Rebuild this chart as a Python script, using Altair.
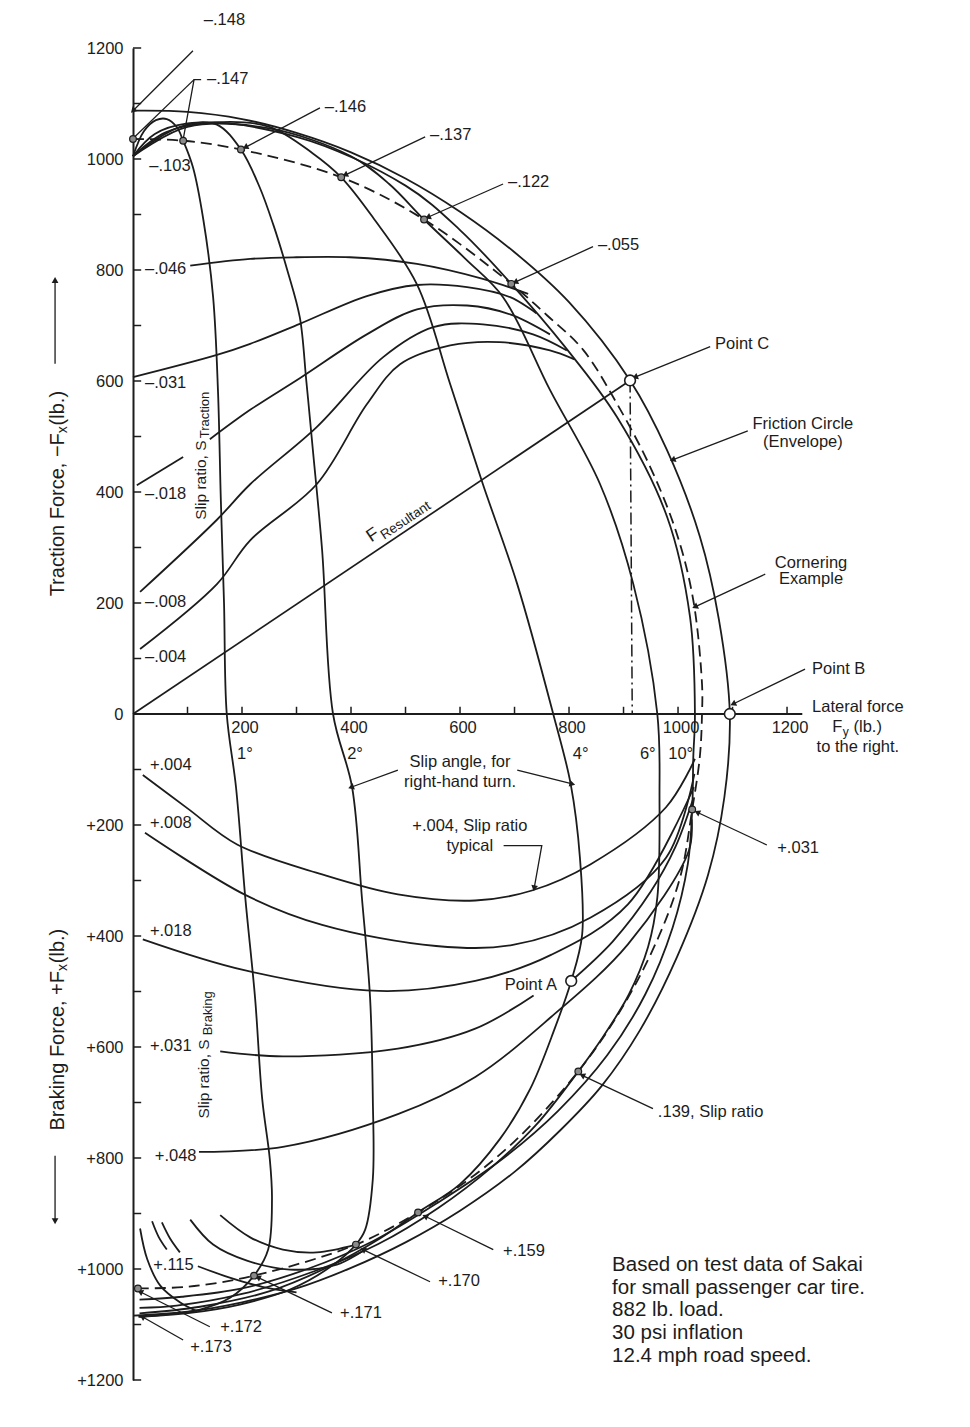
import math
import pandas as pd
import altair as alt

FONT = "Liberation Sans"
INK = "#1c1c1c"

XMAX = 1510
W = 823
H = 1332
SX = W / XMAX
SY = H / 2400.0

# ---------------- axis values ----------------
Y_TICKS = list(range(-1200, 1201, 100))
Y_LABELS = list(range(-1200, 1201, 200))
X_TICKS = list(range(100, 1201, 100))
X_LABELS = [200, 400, 600, 800, 1000, 1200]

# ---------------- curves (Fy lateral, Fx: traction +, braking -) ----------------
ENV_FY = [0, 100, 200, 300, 400, 500, 600, 700, 800, 912, 980, 1040, 1075, 1095,
          1085, 1055, 998, 930, 860, 784, 700, 600, 500, 400, 300, 200, 100, 0]
ENV_FX = [1087, 1085, 1072, 1047, 1012, 965, 905, 832, 742, 601, 475, 320, 170, 0,
          -150, -290, -438, -570, -670, -750, -825, -895, -952, -998, -1035, -1060, -1077, -1084]

CORNER_FY = [0, 92, 198, 382, 534, 694, 760, 826, 888, 949, 998, 1028, 1044, 1044, 1040, 1026,
             1005, 965, 900, 817, 700, 600, 523, 409, 222, 100, 0]
CORNER_FX = [1036, 1033, 1017, 967, 891, 775, 718, 656, 559, 445, 324, 205, 54, 0, -77, -172,
             -290, -400, -525, -644, -770, -850, -898, -956, -1012, -1032, -1035]

VERT_C_FY = [912, 916]
VERT_C_FX = [601, 0]
RESULT_FY = [0, 912]
RESULT_FX = [0, 601]

SA1_FY = [0, 20, 42, 62, 80, 92, 110, 129, 147, 156, 161, 167, 172, 189, 206, 224, 237, 251,
          255, 248, 222, 178, 123, 50, 10]
SA1_FX = [1005, 1050, 1070, 1072, 1058, 1033, 985, 891, 751, 580, 391, 200, 0, -132, -331, -512,
          -693, -802, -874, -965, -1012, -1052, -1073, -1083, -1086]

SA2_FY = [0, 40, 100, 154, 198, 232, 258, 283, 306, 318, 330, 347, 367, 402, 420, 435, 440, 440,
          426, 409, 361, 288, 196, 105, 12]
SA2_FX = [1005, 1045, 1064, 1062, 1017, 950, 880, 800, 715, 600, 476, 295, 0, -132, -331, -512,
          -693, -838, -929, -956, -997, -1037, -1064, -1079, -1086]

SA4_FY = [0, 60, 150, 250, 330, 382, 440, 521, 582, 642, 705, 771, 803, 820, 824, 804, 774, 729,
          673, 600, 523, 453, 361, 251, 123, 12]
SA4_FX = [1005, 1048, 1066, 1058, 1010, 967, 895, 774, 594, 414, 234, 0, -126, -259, -398, -481,
          -566, -675, -766, -847, -898, -945, -995, -1040, -1068, -1080]

SA6_FY = [0, 100, 250, 400, 470, 534, 610, 679, 765, 857, 918, 962, 966, 962, 945, 910, 860, 817,
          740, 660, 560, 450, 330, 200, 80, 12]
SA6_FX = [1005, 1058, 1055, 1005, 955, 891, 820, 751, 584, 414, 234, 0, -150, -331, -420, -505,
          -585, -644, -740, -815, -890, -955, -1005, -1045, -1066, -1070]

SA10_FY = [0, 100, 300, 500, 600, 694, 793, 888, 980, 1022, 1031, 1028, 1026, 1018, 990, 940, 870,
           780, 680, 560, 440, 320, 200, 90, 12]
SA10_FX = [1005, 1062, 1040, 952, 872, 775, 661, 535, 355, 175, 0, -78, -172, -270, -385, -505,
           -615, -715, -800, -880, -950, -1000, -1035, -1050, -1055]

T046_FY = [105, 215, 300, 398, 521, 642, 725]
T046_FX = [808, 820, 823, 823, 811, 784, 757]
T031_FY = [0, 154, 215, 306, 429, 521, 613, 692, 740]
T031_FX = [607, 647, 667, 703, 753, 773, 769, 751, 722]
T018A_FY = [7, 92]
T018A_FX = [412, 463]
T018B_FY = [141, 215, 306, 429, 521, 613, 692, 765]
T018B_FX = [495, 548, 605, 684, 729, 736, 720, 684]
T008_FY = [13, 154, 215, 337, 459, 551, 642, 734, 796]
T008_FX = [220, 350, 414, 517, 643, 697, 702, 684, 655]
T004_FY = [13, 154, 215, 337, 429, 490, 582, 673, 765, 810]
T004_FX = [117, 234, 313, 414, 558, 630, 664, 670, 655, 639]

B004_FY = [18, 100, 191, 347, 486, 628, 732, 839, 978, 1031]
B004_FX = [-110, -170, -235, -289, -325, -336, -318, -271, -168, -81]
B008_FY = [22, 206, 347, 556, 697, 839, 978, 1030]
B008_FX = [-214, -326, -380, -418, -416, -367, -259, -108]
B018_FY = [18, 206, 451, 628, 767, 908, 1029]
B018_FX = [-406, -462, -499, -481, -434, -343, -132]
B031A_FY = [160, 275, 486, 628, 735]
B031A_FX = [-608, -617, -603, -567, -507]
B031B_FY = [804, 880, 950, 995, 1027]
B031B_FX = [-481, -410, -320, -240, -155]
B048_FY = [121, 275, 486, 628, 767, 908, 1020, 1025]
B048_FX = [-789, -780, -721, -654, -546, -415, -246, -190]

ARC_A_FY = [160, 215, 275, 337, 409]
ARC_A_FX = [-903, -943, -965, -970, -956]
ARC_B_FY = [105, 147, 209, 288, 374, 422]
ARC_B_FX = [-911, -956, -985, -1001, -992, -967]
ARC_C_FY = [53, 68, 86]
ARC_C_FX = [-916, -945, -970]
ARC_D_FY = [35, 47, 62]
ARC_D_FX = [-914, -942, -965]
B115_FY = [119, 176, 237, 300]
B115_FX = [-995, -1015, -1032, -1042]
LOWLEFT_FY = [13, 26, 50, 86, 117]
LOWLEFT_FX = [-927, -982, -1030, -1060, -1076]

# markers on the cornering-example line
MK_FY = [0, 92, 198, 382, 534, 694, 1026, 817, 523, 409, 222, 9]
MK_FX = [1036, 1033, 1017, 967, 891, 775, -172, -644, -898, -956, -1012, -1035]

# labelled points A, B, C
PT_FY = [804, 1095, 912]
PT_FX = [-481, 0, 601]

# leader lines (fy list, fx list, arrowhead?)
LEADERS = {
    "l148": ([110, 0], [1195, 1087], True),
    "l147a": ([125, 112, 92], [1143, 1143, 1035], False),
    "l147b": ([112, 0], [1143, 1037], False),
    "l146": ([343, 206], [1092, 1021], True),
    "l137": ([536, 389], [1040, 971], True),
    "l122": ([679, 541], [955, 895], True),
    "l055": ([844, 701], [842, 778], True),
    "lC": ([1059, 921], [662, 607], True),
    "lFC": ([1128, 990], [510, 458], True),
    "lCE": ([1160, 1031], [252, 193], True),
    "lB": ([1233, 1101], [81, 18], True),
    "l031": ([1163, 1035], [-236, -177], True),
    "l139": ([954, 824], [-711, -651], True),
    "l159": ([661, 536], [-965, -905], True),
    "l170": ([545, 422], [-1023, -965], True),
    "l171": ([365, 229], [-1079, -1015], True),
    "l172": ([141, 13], [-1104, -1041], True),
    "l173": ([92, 17], [-1128, -1086], True),
    "lsa1": ([486, 400], [-101, -132], True),
    "lsa2": ([705, 806], [-101, -126], True),
    "ltyp": ([680, 750, 736], [-237, -237, -314], True),
    "ltrac": ([-143, -143], [631, 782], True),
    "lbrak": ([-143, -143], [-796, -914], True),
}

A = 16.5  # annotation font size
# text annotations: (text, fy, fx, size, angle, align, baseline)
TEXTS = [
    ("\u2013.148", 130, 1251, A, 0, "left", "middle"),
    ("\u2013.147", 136, 1144, A, 0, "left", "middle"),
    ("\u2013.146", 352, 1094, A, 0, "left", "middle"),
    ("\u2013.137", 545, 1043, A, 0, "left", "middle"),
    ("\u2013.122", 688, 959, A, 0, "left", "middle"),
    ("\u2013.055", 853, 845, A, 0, "left", "middle"),
    ("Point C", 1068, 667, A, 0, "left", "middle"),
    ("Point B", 1246, 81, A, 0, "left", "middle"),
    ("+.031", 1182, -241, A, 0, "left", "middle"),
    (".139, Slip ratio", 963, -718, A, 0, "left", "middle"),
    ("+.159", 679, -968, A, 0, "left", "middle"),
    ("+.170", 560, -1021, A, 0, "left", "middle"),
    ("+.171", 380, -1079, A, 0, "left", "middle"),
    ("+.172", 160, -1104, A, 0, "left", "middle"),
    ("+.173", 105, -1140, A, 0, "left", "middle"),
    ("+.115", 37, -992, A, 0, "left", "middle"),
    ("+.048", 40, -796, A, 0, "left", "middle"),
    ("+.031", 31, -599, A, 0, "left", "middle"),
    ("+.018", 31, -391, A, 0, "left", "middle"),
    ("+.008", 31, -197, A, 0, "left", "middle"),
    ("+.004", 31, -92, A, 0, "left", "middle"),
    ("\u2013.004", 22, 103, A, 0, "left", "middle"),
    ("\u2013.008", 22, 202, A, 0, "left", "middle"),
    ("\u2013.018", 22, 397, A, 0, "left", "middle"),
    ("\u2013.031", 22, 597, A, 0, "left", "middle"),
    ("\u2013.046", 22, 802, A, 0, "left", "middle"),
    ("\u2013.103", 30, 988, A, 0, "left", "middle"),
    ("1\u00b0", 191, -72, A, 0, "left", "middle"),
    ("2\u00b0", 393, -72, A, 0, "left", "middle"),
    ("4\u00b0", 807, -72, A, 0, "left", "middle"),
    ("6\u00b0", 930, -72, A, 0, "left", "middle"),
    ("10\u00b0", 982, -72, A, 0, "left", "middle"),
    ("F", 1283, -24, A, 0, "left", "middle"),
    ("y", 1302, -33, 12, 0, "left", "middle"),
    ("(lb.)", 1322, -24, A, 0, "left", "middle"),
    ("Based on test data of Sakai", 879, -992, 20.5, 0, "left", "middle"),
    ("for small passenger car tire.", 879, -1034, 20.5, 0, "left", "middle"),
    ("882 lb. load.", 879, -1073, 20.5, 0, "left", "middle"),
    ("30 psi inflation", 879, -1115, 20.5, 0, "left", "middle"),
    ("12.4 mph road speed.", 879, -1157, 20.5, 0, "left", "middle"),
    ("Friction Circle", 1229, 523, A, 0, "center", "middle"),
    ("(Envelope)", 1229, 490, A, 0, "center", "middle"),
    ("Cornering", 1244, 272, A, 0, "center", "middle"),
    ("Example", 1244, 243, A, 0, "center", "middle"),
    ("Lateral force", 1330, 13, A, 0, "center", "middle"),
    ("to the right.", 1330, -60, A, 0, "center", "middle"),
    ("Slip angle, for", 600, -87, A, 0, "center", "middle"),
    ("right-hand turn.", 600, -123, A, 0, "center", "middle"),
    ("+.004, Slip ratio", 618, -201, A, 0, "center", "middle"),
    ("typical", 618, -237, A, 0, "center", "middle"),
    ("Point A", 778, -489, A, 0, "right", "middle"),
    ("Slip ratio, S", 125, 350, 15.5, 270, "left", "middle"),
    ("Traction", 133, 497, 13, 270, "left", "middle"),
    ("Slip ratio, S", 130, -729, 15.5, 270, "left", "middle"),
    ("Braking", 138, -579, 13, 270, "left", "middle"),
    ("Traction Force, \u2212F", -138, 506, 20, 270, "right", "middle"),
    ("x", -128, 506, 14, 270, "left", "middle"),
    (" (lb.)", -138, 520, 20, 270, "left", "middle"),
    ("Braking Force, +F", -138, -463, 20, 270, "right", "middle"),
    ("x", -128, -463, 14, 270, "left", "middle"),
    (" (lb.)", -138, -449, 20, 270, "left", "middle"),
    ("F", 437, 309, 18, 326, "left", "alphabetic"),
    ("Resultant", 461, 314, 13.5, 326, "left", "alphabetic"),
]


def frame(name, fys, fxs):
    return pd.DataFrame({"curve": name, "i": list(range(len(fys))), "fy": fys, "fx": fxs})


solid_df = pd.concat([
    frame("env", ENV_FY, ENV_FX),
    frame("sa1", SA1_FY, SA1_FX), frame("sa2", SA2_FY, SA2_FX), frame("sa4", SA4_FY, SA4_FX),
    frame("sa6", SA6_FY, SA6_FX), frame("sa10", SA10_FY, SA10_FX),
    frame("t046", T046_FY, T046_FX), frame("t031", T031_FY, T031_FX),
    frame("t018a", T018A_FY, T018A_FX), frame("t018b", T018B_FY, T018B_FX),
    frame("t008", T008_FY, T008_FX), frame("t004", T004_FY, T004_FX),
    frame("b004", B004_FY, B004_FX), frame("b008", B008_FY, B008_FX),
    frame("b018", B018_FY, B018_FX), frame("b031a", B031A_FY, B031A_FX),
    frame("b031b", B031B_FY, B031B_FX), frame("b048", B048_FY, B048_FX),
    frame("arca", ARC_A_FY, ARC_A_FX), frame("arcb", ARC_B_FY, ARC_B_FX),
    frame("arcc", ARC_C_FY, ARC_C_FX), frame("arcd", ARC_D_FY, ARC_D_FX),
    frame("b115", B115_FY, B115_FX), frame("lowleft", LOWLEFT_FY, LOWLEFT_FX),
], ignore_index=True)

straight_df = frame("res", RESULT_FY, RESULT_FX)
dashed_df = frame("corner", CORNER_FY, CORNER_FX)
dashdot_df = frame("vertc", VERT_C_FY, VERT_C_FX)

lead_rows = []
arrow_rows = []
for name, (fys, fxs, arrow) in LEADERS.items():
    for k, (a, b) in enumerate(zip(fys, fxs)):
        lead_rows.append({"curve": name, "i": k, "fy": a, "fx": b})
    if arrow:
        dxp = (fys[-1] - fys[-2]) * SX
        dyp = -(fxs[-1] - fxs[-2]) * SY
        ang = (math.degrees(math.atan2(dxp, -dyp)) + 360) % 360
        arrow_rows.append({"fy": fys[-1], "fx": fxs[-1], "ang": ang})
lead_df = pd.DataFrame(lead_rows)
arrow_df = pd.DataFrame(arrow_rows)

ytick_df = pd.DataFrame({"fx": Y_TICKS, "fy": 0, "fy2": 15})
xtick_df = pd.DataFrame({"fy": X_TICKS, "fx": 0, "fx2": 13})
xlab_df = pd.DataFrame({"fy": X_LABELS, "fx": 0, "t": [str(v) for v in X_LABELS]})
xaxis_df = pd.DataFrame({"fy": [0], "fy2": [1228], "fx": [0]})
mk_df = pd.DataFrame({"fy": MK_FY, "fx": MK_FX})
pt_df = pd.DataFrame({"fy": PT_FY, "fx": PT_FX})
text_df = pd.DataFrame(TEXTS, columns=["t", "fy", "fx", "size", "angle", "align", "base"])

xs = alt.Scale(domain=[0, XMAX], nice=False, zero=False)
ys = alt.Scale(domain=[-1200, 1200], nice=False, zero=False)
yaxis = alt.Axis(values=Y_LABELS,
                 labelExpr="datum.value < 0 ? '+' + (-datum.value) : '' + datum.value",
                 ticks=False, grid=False, domain=True, domainColor=INK, domainWidth=2,
                 labelFont=FONT, labelFontSize=16.5, labelColor=INK, labelPadding=10, title=None)
X = alt.X("fy:Q", scale=xs, axis=None)
Y = alt.Y("fx:Q", scale=ys, axis=yaxis)

layers = []
layers.append(alt.Chart(solid_df).mark_line(interpolate="catmull-rom", color=INK, strokeWidth=1.8)
              .encode(x=X, y=Y, detail="curve:N", order="i:Q"))
layers.append(alt.Chart(straight_df).mark_line(color=INK, strokeWidth=1.7)
              .encode(x=X, y=Y, detail="curve:N", order="i:Q"))
layers.append(alt.Chart(dashed_df).mark_line(interpolate="catmull-rom", color=INK, strokeWidth=1.8,
                                             strokeDash=[11, 6])
              .encode(x=X, y=Y, detail="curve:N", order="i:Q"))
layers.append(alt.Chart(dashdot_df).mark_line(color=INK, strokeWidth=1.5, strokeDash=[12, 4, 2, 4])
              .encode(x=X, y=Y, detail="curve:N", order="i:Q"))
layers.append(alt.Chart(lead_df).mark_line(color=INK, strokeWidth=1.3)
              .encode(x=X, y=Y, detail="curve:N", order="i:Q"))
layers.append(alt.Chart(arrow_df).mark_point(shape="triangle-up", filled=True, color=INK, size=45,
                                            opacity=1)
              .encode(x=X, y=Y, angle=alt.Angle("ang:Q", scale=None)))
layers.append(alt.Chart(ytick_df).mark_rule(color=INK, strokeWidth=1.5)
              .encode(x=X, x2=alt.X2("fy2:Q"), y=Y))
layers.append(alt.Chart(xtick_df).mark_rule(color=INK, strokeWidth=1.5)
              .encode(x=X, y=Y, y2=alt.Y2("fx2:Q")))
layers.append(alt.Chart(xaxis_df).mark_rule(color=INK, strokeWidth=2)
              .encode(x=X, x2=alt.X2("fy2:Q"), y=Y))
layers.append(alt.Chart(xlab_df).mark_text(font=FONT, fontSize=16.5, color=INK, align="center",
                                          baseline="middle", dx=3, dy=14)
              .encode(x=X, y=Y, text="t:N"))
layers.append(alt.Chart(mk_df).mark_point(shape="circle", filled=True, fill="#8a8a8a", stroke=INK,
                                         strokeWidth=1.2, size=45, opacity=1)
              .encode(x=X, y=Y))
layers.append(alt.Chart(pt_df).mark_point(shape="circle", filled=True, fill="white", stroke=INK,
                                         strokeWidth=1.6, size=115, opacity=1)
              .encode(x=X, y=Y))

for (al, bl), sub in text_df.groupby(["align", "base"]):
    layers.append(alt.Chart(sub.reset_index(drop=True))
                  .mark_text(font=FONT, color=INK, align=al, baseline=bl)
                  .encode(x=X, y=Y, text="t:N",
                          size=alt.Size("size:Q", scale=None),
                          angle=alt.Angle("angle:Q", scale=None)))

chart = alt.layer(*layers).properties(
    width=W, height=H,
    autosize=alt.AutoSizeParams(type="none"),
    padding={"left": 125, "top": 40, "right": 6, "bottom": 40},
    background="white",
).configure_view(stroke=None)

chart.save("out.html", embed_options={"renderer": "svg", "actions": False})
